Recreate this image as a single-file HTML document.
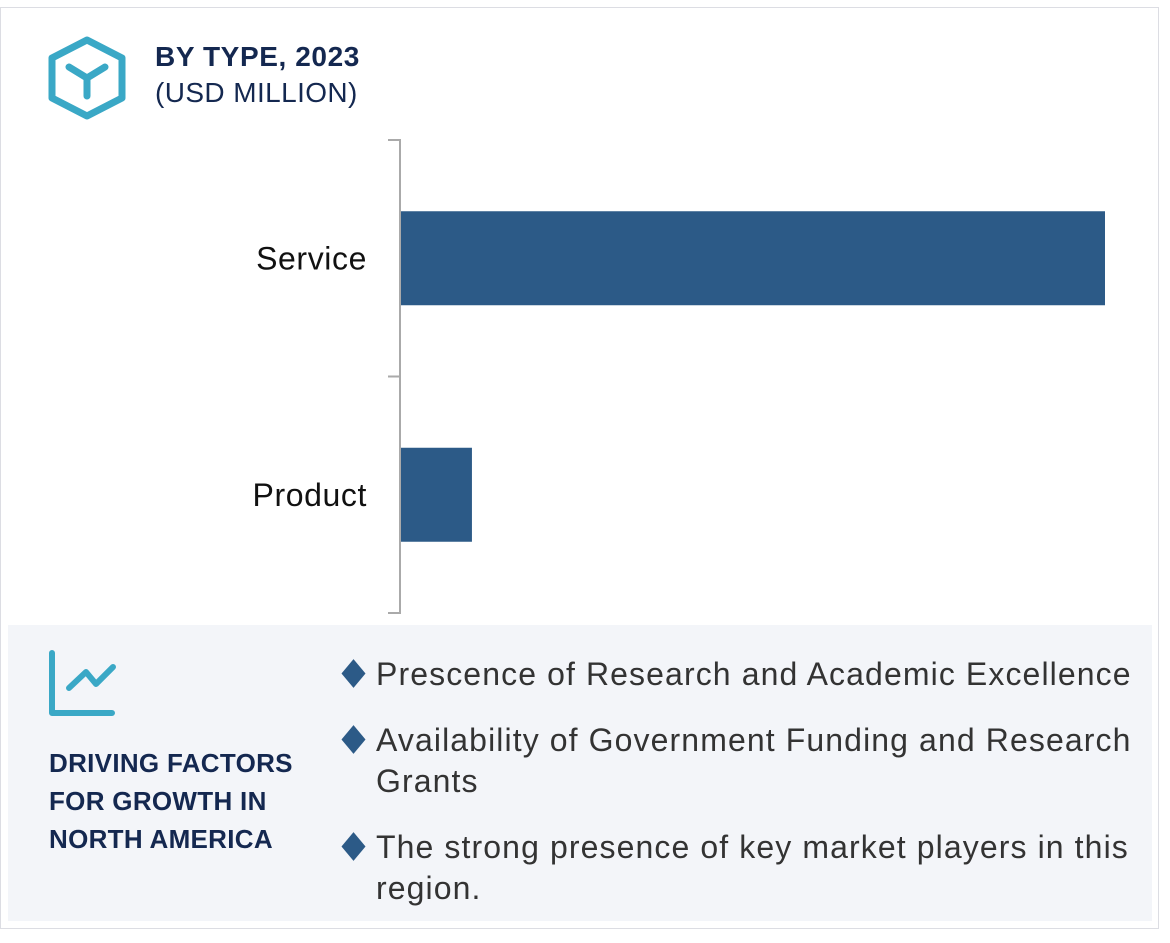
<!DOCTYPE html>
<html><head><meta charset="utf-8"><style>
body{margin:0;width:1170px;height:943px;background:#fff;font-family:"Liberation Sans",sans-serif;position:relative;overflow:hidden}
.abs{position:absolute}
.dm{position:absolute;left:5px;top:11px;width:17px;height:17px;background:#2c5a87;transform:scaleY(1.2) rotate(45deg)}
</style></head><body>
<div class="abs" style="left:0;top:7px;width:1159px;height:922px;border:1px solid #dcdde3;box-sizing:border-box"></div>
<svg class="abs" style="left:0;top:0" width="1170" height="943">
<g>
<polygon points="87,40 122,58 122,98 87,116 52,98 52,58" fill="none" stroke="#3aa8c6" stroke-width="7" stroke-linejoin="round"/>
<path d="M69,67 L87,78 L105,67 M87,78 L87,96" fill="none" stroke="#3aa8c6" stroke-width="7" stroke-linecap="round"/>
</g>
<text x="155" y="66" font-size="28" font-weight="bold" fill="#142850" letter-spacing="0.6">BY TYPE, 2023</text>
<text x="155" y="102" font-size="28" fill="#142850" letter-spacing="0.4">(USD MILLION)</text>
<g id="bars"></g>
</svg>
<div class="abs" style="left:8px;top:625px;width:1144px;height:296px;background:#f3f5f9"></div>
<svg class="abs" style="left:0;top:610px" width="130" height="110">
<path d="M52,43 L52,103 L112,103" fill="none" stroke="#3aa8c6" stroke-width="6" stroke-linecap="round" stroke-linejoin="round"/>
<path d="M69,78 L86,62 L96,74 L113,57" fill="none" stroke="#3aa8c6" stroke-width="6" stroke-linecap="round" stroke-linejoin="round"/>
</svg>
<div class="abs" style="left:49px;top:744px;font-size:26px;font-weight:bold;color:#142850;line-height:38px;letter-spacing:0.3px">DRIVING FACTORS<br>FOR GROWTH IN<br>NORTH AMERICA</div>
<div class="abs" style="left:340px;top:654px;font-size:32px;letter-spacing:1.1px;color:#333;line-height:41px;width:825px">
<div style="position:relative;padding-left:36px;margin-bottom:25px"><span class="dm"></span>Prescence of Research and Academic Excellence</div>
<div style="position:relative;padding-left:36px;margin-bottom:25px"><span class="dm"></span>Availability of Government Funding and Research Grants</div>
<div style="position:relative;padding-left:36px"><span class="dm"></span>The strong presence of key market players in this region.</div>
</div>
<script>
const categories=["Service","Product"];
const values=[980,100];
const maxVal=980;
const x0=400,x1=1105,yTop=140,yBot=613;
const ns="http://www.w3.org/2000/svg";
const g=document.getElementById('bars');
const xs=v=>x0+(v/maxVal)*(x1-x0);
const band=(yBot-yTop)/categories.length;
function mk(t,a){const e=document.createElementNS(ns,t);for(const k in a)e.setAttribute(k,a[k]);g.appendChild(e);return e;}
const ax=mk('path',{d:`M388,${yTop} L${x0},${yTop} L${x0},${yBot} L388,${yBot}`,fill:'none',stroke:'#aaa','stroke-width':2});


for(let i=1;i<categories.length;i++){const t=mk('line',{x1:388,x2:x0,y1:yTop+band*i,y2:yTop+band*i,stroke:'#aaa','stroke-width':2});

}
categories.forEach((c,i)=>{
 const cy=yTop+band*(i+0.5);
 const r=mk('rect',{x:x0+1,y:cy-47,width:xs(values[i])-x0-1,height:94,fill:'#2c5a87'});
 
 
 const t=mk('text',{x:367,y:cy+11,'text-anchor':'end','font-size':32,'letter-spacing':0.6,fill:'#111'});
 t.textContent=c;
 
 
});
</script>
</body></html>
